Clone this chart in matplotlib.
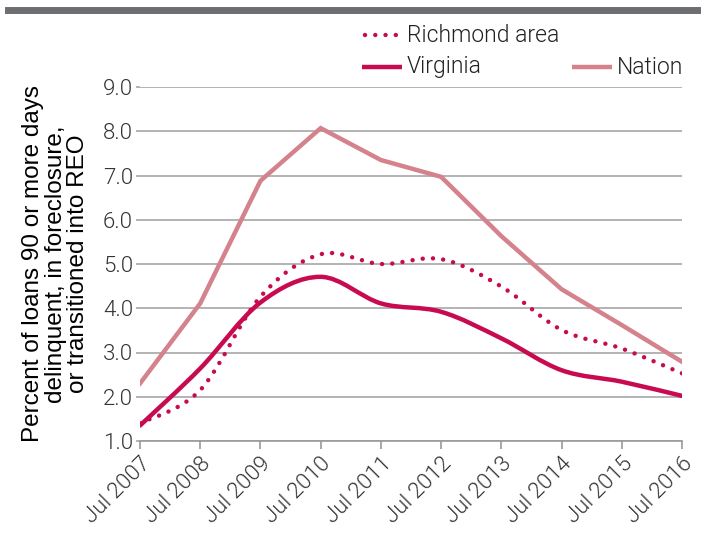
import matplotlib
matplotlib.use("Agg")
import matplotlib.pyplot as plt
from matplotlib.lines import Line2D
from matplotlib.path import Path
from matplotlib.patches import PathPatch

plt.rcParams['font.family'] = ['Roboto', 'Liberation Sans', 'DejaVu Sans']

years = [2007, 2008, 2009, 2010, 2011, 2012, 2013, 2014, 2015, 2016]
tick_labels = ["Jul %d" % y for y in years]

richmond = [1.40, 2.15, 4.26, 5.22, 5.00, 5.11, 4.49, 3.51, 3.09, 2.53]
virginia = [1.35, 2.64, 4.13, 4.71, 4.11, 3.92, 3.32, 2.60, 2.34, 2.02]
nation = [2.30, 4.11, 6.88, 8.07, 7.35, 6.97, 5.63, 4.43, 3.62, 2.79]

red = "#c80a50"
pink = "#d4828b"
light = 300


def smooth_path(xs, ys):
    # bezier through the points, like a spreadsheet "smoothed line"
    n = len(xs)
    verts = [(xs[0], ys[0])]
    codes = [Path.MOVETO]
    for i in range(n - 1):
        p = max(i - 1, 0)
        q = min(i + 2, n - 1)
        c1 = (xs[i] + (xs[i + 1] - xs[p]) / 6, ys[i] + (ys[i + 1] - ys[p]) / 6)
        c2 = (xs[i + 1] - (xs[q] - xs[i]) / 6, ys[i + 1] - (ys[q] - ys[i]) / 6)
        verts += [c1, c2, (xs[i + 1], ys[i + 1])]
        codes += [Path.CURVE4] * 3
    return Path(verts, codes)


fig = plt.figure(figsize=(7.01, 5.33), dpi=100)
ax = fig.add_axes([140 / 701, 1 - 441 / 533, 542 / 701, 354 / 533])

ax.plot(years, nation, color=pink, lw=3.2, solid_joinstyle='miter', zorder=3)
ax.add_patch(PathPatch(smooth_path(years, virginia), fill=False, edgecolor=red,
                       lw=3.2, capstyle='round', zorder=4))
ax.add_patch(PathPatch(smooth_path(years, richmond), fill=False, edgecolor=red,
                       lw=3.2, linestyle=(0, (0.01, 2.3)), capstyle='round', zorder=4))

ax.set_xlim(2007, 2016)
ax.set_ylim(1, 9)
ax.set_yticks(range(1, 10))
ax.set_yticklabels(["%.1f" % v for v in range(1, 10)], fontsize=16, color="#333333",
                   fontweight=light)
ax.yaxis.grid(True, color="#a7a7a7", lw=1.2)
ax.set_axisbelow(True)
ax.tick_params(axis='y', length=3, color="#a7a7a7", width=1.2, pad=2)

ax.set_xticks(years)
ax.set_xticklabels(tick_labels, rotation=45, ha='right', rotation_mode='anchor',
                   fontsize=16, color="#333333", fontweight=light)
ax.tick_params(axis='x', length=6, color="#9a9a9a", width=1.2, pad=3)

for s in ['top', 'right', 'left']:
    ax.spines[s].set_visible(False)
ax.spines['bottom'].set_color("#9a9a9a")
ax.spines['bottom'].set_linewidth(1.2)

ax.set_ylabel("Percent of loans 90 or more days\ndelinquent, in foreclosure,\nor transitioned into REO",
              fontsize=17.5, color="black", labelpad=10, linespacing=1.02,
              family=['Liberation Sans', 'DejaVu Sans'])

# top rule
fig.add_artist(Line2D([8 / 701, 1], [1 - 10 / 533] * 2, lw=5, color="#6d6e71"))

# legend drawn by hand to keep its layout
def leg(x0, x1, y, color, style, label):
    yy = 1 - y / 533
    fig.add_artist(Line2D([x0 / 701, x1 / 701], [yy, yy], color=color, lw=3.2,
                          linestyle=style, solid_capstyle='butt', dash_capstyle='round'))
    fig.text((x1 + 5) / 701, yy, label, fontsize=16.5, va='center', ha='left',
             color="#222222", fontweight=light)

leg(365, 402, 35, red, (0, (0.01, 2.3)), "Richmond area")
leg(362, 402, 67, red, '-', "Virginia")
leg(572, 612, 67, pink, '-', "Nation")

fig.savefig("out.png", dpi=100)
